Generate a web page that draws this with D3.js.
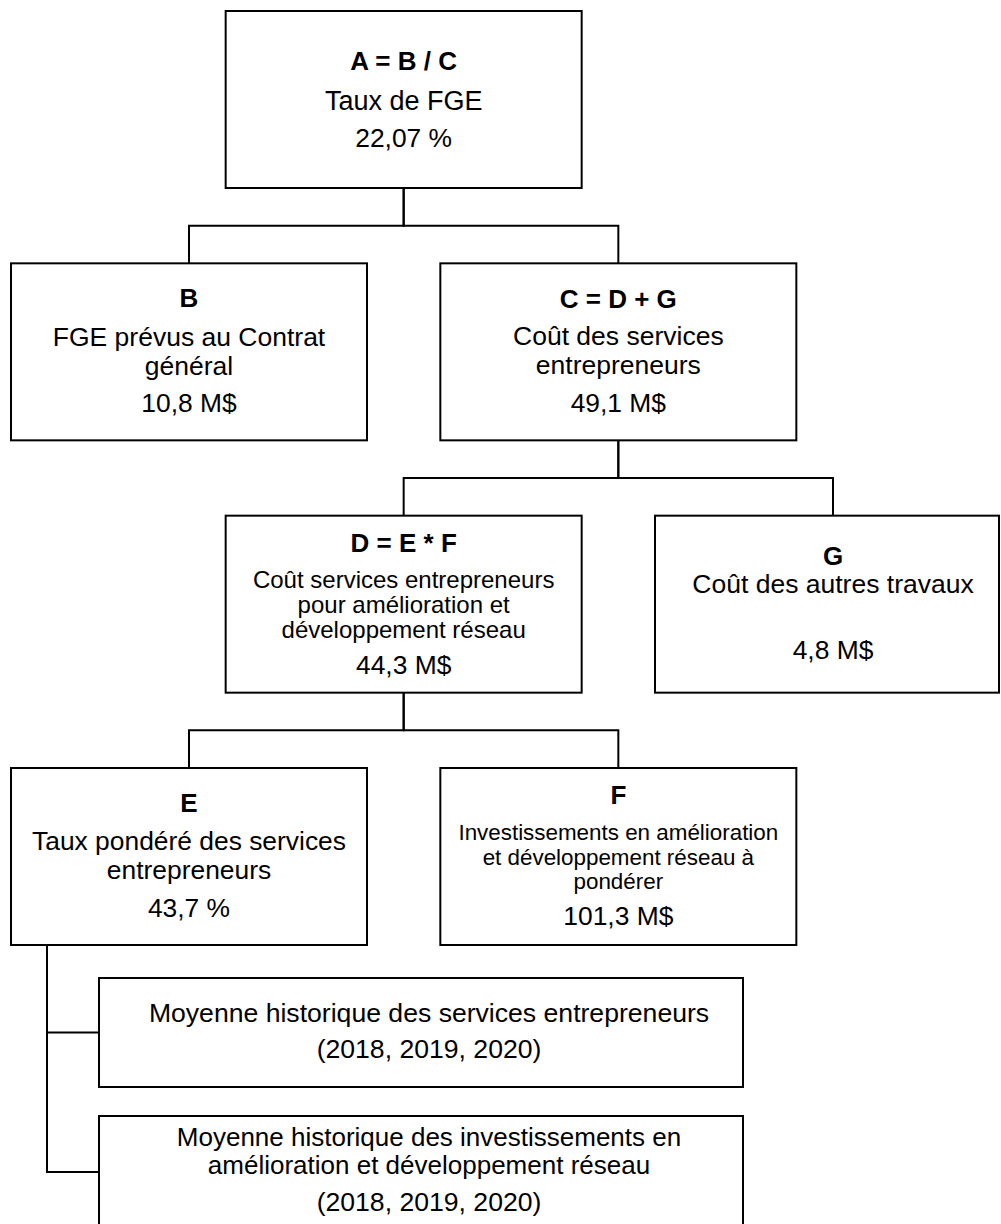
<!DOCTYPE html>
<html>
<head>
<meta charset="utf-8">
<script src="https://cdn.jsdelivr.net/npm/d3@7/dist/d3.min.js"></script>
<style>
  html, body { margin: 0; padding: 0; background: #ffffff; }
  svg { display: block; }
</style>
</head>
<body>
<div id="chart"></div>
<script>
// ---------- DATA ----------
const nodeIds = ["A", "B", "C", "D", "G", "E", "F", "H1", "H2"];
const nodeParents = [null, "A", "A", "C", "C", "D", "D", "E", "E"];
const nodeTitles = ["A = B / C", "B", "C = D + G", "D = E * F", "G", "E", "F", "", ""];
const nodeLabels = [
  ["Taux de FGE"],
  ["FGE prévus au Contrat", "général"],
  ["Coût des services", "entrepreneurs"],
  ["Coût services entrepreneurs", "pour amélioration et", "développement réseau"],
  ["Coût des autres travaux"],
  ["Taux pondéré des services", "entrepreneurs"],
  ["Investissements en amélioration", "et développement réseau à", "pondérer"],
  ["Moyenne historique des services entrepreneurs"],
  ["Moyenne historique des investissements en", "amélioration et développement réseau"]
];
const nodeValues = ["22,07 %", "10,8 M$", "49,1 M$", "44,3 M$", "4,8 M$", "43,7 %", "101,3 M$",
  "(2018, 2019, 2020)", "(2018, 2019, 2020)"];

// ---------- LAYOUT (geometry, kept apart from data) ----------
const W = 1001, H = 1224;
const FONT = "'Liberation Sans', Arial, Helvetica, sans-serif";
const colX = d3.scaleLinear().domain([0, 3]).range([189, 833]);
const rowY = d3.scaleLinear().domain([0, 3]).range([11, 768]);
const BOX_W = 356, BOX_H = 177;

const layout = {
  A:  {col: 1, row: 0, titleDy: 59, labelDy: 99, lineH: 28, valueDy: 136, labelSize: 27},
  B:  {col: 0, row: 1, titleDy: 44, labelDy: 83, lineH: 29, valueDy: 149, labelSize: 26.5},
  C:  {col: 2, row: 1, titleDy: 45, labelDy: 82, lineH: 29, valueDy: 149, labelSize: 26.5},
  D:  {col: 1, row: 2, titleDy: 36, labelDy: 72, lineH: 25, valueDy: 158, labelSize: 24},
  G:  {col: 3, row: 2, titleDy: 49, labelDy: 77, lineH: 28, valueDy: 143, labelSize: 26.5},
  E:  {col: 0, row: 3, titleDy: 44, labelDy: 82, lineH: 29, valueDy: 149, labelSize: 26.4},
  F:  {col: 2, row: 3, titleDy: 36, labelDy: 72, lineH: 24.5, valueDy: 157, labelSize: 22.4},
  H1: {side: true, x0: 99, x1: 743, y0: 978, y1: 1087, cx: 429, labelDy: 44, lineH: 26, valueDy: 80, labelSize: 26.6},
  H2: {side: true, x0: 99, x1: 743, y0: 1116, y1: 1228, cx: 429, labelDy: 30, lineH: 28, valueDy: 95, labelSize: 26},
};

function geom(id) {
  const L = layout[id];
  if (L.side) return {x0: L.x0, x1: L.x1, y0: L.y0, y1: L.y1, cx: L.cx};
  const cx = colX(L.col), y0 = rowY(L.row);
  return {
    x0: Math.max(cx - BOX_W / 2, 1),
    x1: Math.min(cx + BOX_W / 2, W - 2),
    y0: y0, y1: y0 + BOX_H, cx: cx
  };
}

// ---------- BUILD ----------
const table = nodeIds.map((id, i) => ({
  id, parent: nodeParents[i], title: nodeTitles[i], labels: nodeLabels[i], value: nodeValues[i]
}));
const root = d3.stratify().id(d => d.id).parentId(d => d.parent)(table);
root.each(n => { n.g = geom(n.id); n.L = layout[n.id]; });

const svg = d3.select("#chart").append("svg")
  .attr("width", W).attr("height", H)
  .attr("viewBox", `0 0 ${W} ${H}`);
svg.append("rect").attr("width", W).attr("height", H).attr("fill", "#ffffff");

// connectors
const linkPath = l => {
  const p = l.source.g, c = l.target.g;
  if (l.target.L.side) {
    const sx = p.x0 + 36;
    const my = (c.y0 + c.y1) / 2;
    return `M${sx},${p.y1}V${my}H${c.x0}`;
  }
  const my = (p.y1 + c.y0) / 2;
  return `M${p.cx},${p.y1}V${my}H${c.cx}V${c.y0}`;
};
svg.append("g")
  .selectAll("path")
  .data(root.links())
  .join("path")
  .attr("d", linkPath)
  .attr("fill", "none")
  .attr("stroke", "#000")
  .attr("stroke-width", 2)
  .attr("stroke-linecap", "square");

// nodes
const node = svg.append("g")
  .selectAll("g")
  .data(root.descendants())
  .join("g");

node.append("rect")
  .attr("x", d => d.g.x0).attr("y", d => d.g.y0)
  .attr("width", d => d.g.x1 - d.g.x0).attr("height", d => d.g.y1 - d.g.y0)
  .attr("fill", "#ffffff").attr("stroke", "#000").attr("stroke-width", 2);

node.filter(d => d.data.title)
  .append("text")
  .attr("x", d => d.g.cx).attr("y", d => d.g.y0 + d.L.titleDy)
  .attr("text-anchor", "middle")
  .attr("font-family", FONT).attr("font-weight", "bold").attr("font-size", 26)
  .attr("fill", "#000")
  .text(d => d.data.title);

node.each(function(d) {
  const g = d3.select(this);
  g.selectAll("text.lbl")
    .data(d.data.labels)
    .join("text")
    .attr("class", "lbl")
    .attr("x", d.g.cx)
    .attr("y", (t, i) => d.g.y0 + d.L.labelDy + i * d.L.lineH)
    .attr("text-anchor", "middle")
    .attr("font-family", FONT).attr("font-size", d.L.labelSize)
    .attr("fill", "#000")
    .text(t => t);
});

node.append("text")
  .attr("x", d => d.g.cx).attr("y", d => d.g.y0 + d.L.valueDy)
  .attr("text-anchor", "middle")
  .attr("font-family", FONT).attr("font-size", d => d.L.side ? 26.6 : 26.4)
  .attr("fill", "#000")
  .text(d => d.data.value);
</script>
</body>
</html>
